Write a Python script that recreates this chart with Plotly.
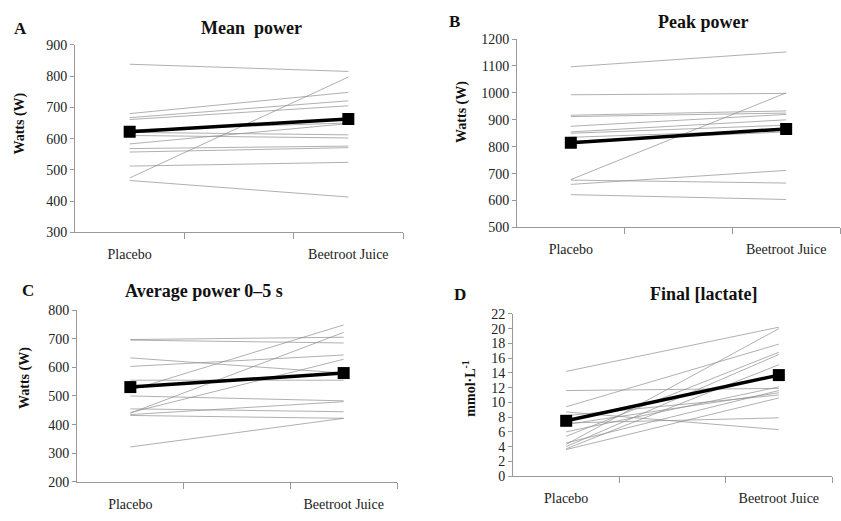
import plotly.graph_objects as go

conditions = ["Placebo", "Beetroot Juice"]

# Panel A: Mean power (W), individual subjects (placebo, beetroot)
mean_power_pl = [838, 474, 680, 667, 661, 628, 583, 620, 610, 568, 557, 512, 466]
mean_power_bj = [815, 797, 748, 721, 705, 650, 648, 612, 602, 576, 571, 524, 413]
mean_power_avg = [622, 663]

# Panel B: Peak power (W)
peak_power_pl = [1097, 993, 917, 912, 876, 855, 850, 835, 820, 678, 676, 660, 622]
peak_power_bj = [1152, 998, 933, 925, 920, 900, 880, 862, 855, 1000, 665, 712, 604]
peak_power_avg = [815, 866]

# Panel C: Average power 0-5 s (W)
avg05_pl = [697, 695, 633, 603, 555, 520, 440, 442, 500, 455, 435, 432, 322]
avg05_bj = [705, 685, 580, 643, 555, 748, 722, 628, 483, 445, 480, 422, 422]
avg05_avg = [531, 580]

# Panel D: Final [lactate] (mmol/L)
lactate_pl = [14.2, 11.6, 9.4, 8.7, 7.2, 5.4, 4.3, 4.0, 3.7, 3.6, 6.0, 7.0, 4.5, 8.2]
lactate_bj = [20.2, 11.9, 17.9, 6.3, 7.9, 16.8, 20.0, 16.5, 15.1, 10.6, 12.1, 11.3, 11.6, 11.0]
lactate_avg = [7.5, 13.7]

x_pos = [0.5, 2.5]  # category centres on a 3-slot category axis

panels = [
    dict(pl=mean_power_pl, bj=mean_power_bj, avg=mean_power_avg, rng=[300, 900], dtick=100,
         xd=[75/841, 403/841], yd=[1-232/521, 1-39/521]),
    dict(pl=peak_power_pl, bj=peak_power_bj, avg=peak_power_avg, rng=[500, 1200], dtick=100,
         xd=[517/841, 840/841], yd=[1-227/521, 1-33/521]),
    dict(pl=avg05_pl, bj=avg05_bj, avg=avg05_avg, rng=[200, 800], dtick=100,
         xd=[77/841, 397/841], yd=[1-489/521, 1-312/521]),
    dict(pl=lactate_pl, bj=lactate_bj, avg=lactate_avg, rng=[0, 22], dtick=2,
         xd=[513/841, 832/841], yd=[1-483/521, 1-316/521]),
]

FONT = "Liberation Serif, DejaVu Serif, serif"
fig = go.Figure()
layout = dict(
    width=841, height=521, margin=dict(l=0, r=0, t=0, b=0),
    paper_bgcolor="white", plot_bgcolor="white", showlegend=False,
    font=dict(family=FONT, size=14, color="#222"),
)

for i, p in enumerate(panels):
    n = "" if i == 0 else str(i + 1)
    xa, ya = "x" + n, "y" + n
    for a, b in zip(p["pl"], p["bj"]):
        fig.add_trace(go.Scatter(x=x_pos, y=[a, b], mode="lines", xaxis=xa, yaxis=ya,
                                 line=dict(color="#8e8e8e", width=0.7), hoverinfo="skip"))
    fig.add_trace(go.Scatter(x=x_pos, y=p["avg"], mode="lines+markers", xaxis=xa, yaxis=ya,
                             line=dict(color="black", width=3.5),
                             marker=dict(symbol="square", size=12, color="black")))
    layout["xaxis" + n] = dict(
        domain=p["xd"], anchor=ya, range=[0, 3], tickvals=x_pos, ticktext=conditions,
        ticks="", showline=True, linecolor="#999", linewidth=1, showgrid=False, zeroline=False,
        tickfont=dict(family=FONT, size=14, color="#222"), ticklabelstandoff=9,
        minor=dict(tickvals=[1, 2, 3], ticks="outside", ticklen=6, tickcolor="#999", showgrid=False),
    )
    layout["yaxis" + n] = dict(
        domain=p["yd"], anchor=xa, range=p["rng"], dtick=p["dtick"], tick0=0,
        ticks="outside", ticklen=4, tickcolor="#999", showline=True, linecolor="#999",
        linewidth=1, showgrid=False, zeroline=False,
        tickfont=dict(family=FONT, size=14, color="#222"),
    )

fig.update_layout(**layout)

ann = [
    ("A", 20, 22, 17, 0), ("B", 455, 15, 17, 0), ("C", 28, 292, 17, 0), ("D", 460, 296, 17, 0),
    ("Mean  power", 252, 22, 18, 0), ("Peak power", 703, 15, 18, 0),
    ("Average power 0–5 s", 204, 292, 18, 0), ("Final [lactate]", 703, 296, 18, 0),
    ("Watts (W)", 20, 120, 14, -90), ("Watts (W)", 462, 108, 14, -90),
    ("Watts (W)", 25, 382, 14, -90), ("mmol·L<sup>-1</sup>", 469, 393, 14, -90),
]
for text, x, y, size, ang in ann:
    fig.add_annotation(text="<b>" + text.replace("  ", "&nbsp; ") + "</b>", x=x/841, y=1-y/521,
                       xref="paper", yref="paper", showarrow=False, textangle=ang,
                       xanchor="center", yanchor="middle",
                       font=dict(family=FONT, size=size, color="#111"))

fig.write_html("out.html")
